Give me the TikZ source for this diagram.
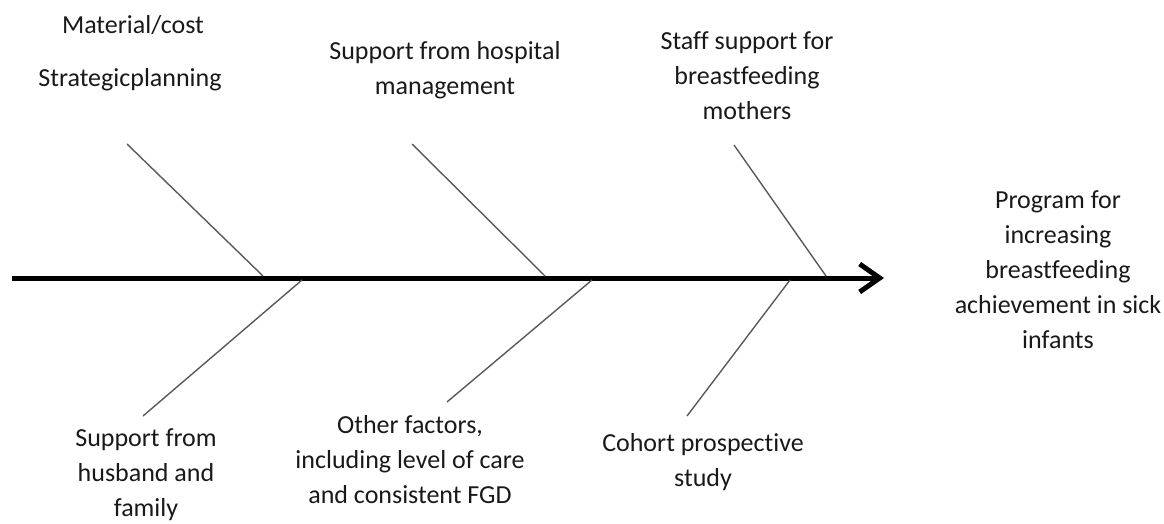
\documentclass[tikz,border=0pt]{standalone}
\usepackage{fontspec}
\setmainfont{Carlito}[Ligatures={NoCommon,NoContextual}]
\usetikzlibrary{arrows.meta}

\begin{document}
\begin{tikzpicture}[x=1pt,y=-1pt,
		bone/.style={color=black!65, line width=1.4pt},
		cause/.style={align=center, text=black!90, inner sep=0pt, font=\fontsize{26}{35}\selectfont}]
		\useasboundingbox (0,0) rectangle (1164,524);
		% spine
		\coordinate (tail) at (12,278);
		\coordinate (head) at (884,278);
		\draw[color=black, line width=5pt, -{Straight Barb[length=20pt,width=28pt]}] (tail) -- (head);
		% upper bones
		\coordinate (u1) at (127,144); \coordinate (j1) at (263,276);
		\coordinate (u2) at (412,144); \coordinate (j2) at (545,276);
		\coordinate (u3) at (734,145); \coordinate (j3) at (826,276);
		\draw[bone] (u1) -- (j1);
		\draw[bone] (u2) -- (j2);
		\draw[bone] (u3) -- (j3);
		% lower bones
		\coordinate (j4) at (302,280); \coordinate (d4) at (143,416);
		\coordinate (j5) at (592,280); \coordinate (d5) at (447,402);
		\coordinate (j6) at (790,280); \coordinate (d6) at (687,416);
		\draw[bone] (j4) -- (d4);
		\draw[bone] (j5) -- (d5);
		\draw[bone] (j6) -- (d6);
		% causes
		\node[cause] (mat) at (133,25) {Material/cost};
		\node[cause] (strat) at (130,80) {Strategicplanning};
		\node[cause] (hosp) at (445,70) {Support from hospital\\management};
		\node[cause] (staff) at (747,76) {Staff support for\\breastfeeding\\mothers};
		\node[cause] (husb) at (146,475) {Support from\\husband and\\family};
		\node[cause] (other) at (410,460) {Other factors,\\including level of care\\and consistent FGD};
		\node[cause] (cohort) at (703,462) {Cohort prospective\\study};
		% effect
		\node[cause] (prog) at (1058,270) {Program for\\increasing\\breastfeeding\\achievement in sick\\infants};
	\end{tikzpicture}
\end{document}
